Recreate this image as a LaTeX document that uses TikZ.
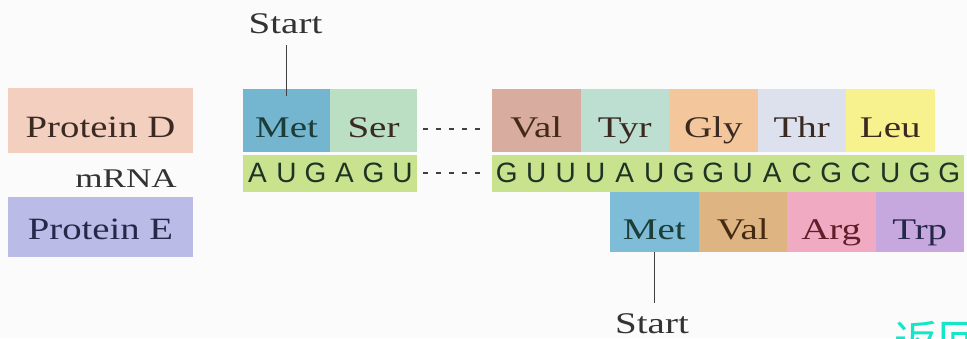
\documentclass[tikz,border=0pt]{standalone}
\usepackage{fontspec}
\usepackage{graphicx}
\setmainfont{Liberation Serif}
\newfontfamily\seqfont{Liberation Sans}
\newfontfamily\cjkfont{Noto Sans CJK SC}
\newcommand\widen[1]{\scalebox{1.3}[1]{#1}}

% box colours
\definecolor{bgc}{HTML}{FAFBFA}
\definecolor{cProtD}{HTML}{F3CFC0}
\definecolor{cProtE}{HTML}{BBBBE8}
\definecolor{cMet}{HTML}{74B6CF}
\definecolor{cSer}{HTML}{BADFC2}
\definecolor{cVal}{HTML}{D8AC9F}
\definecolor{cTyr}{HTML}{BCDFD2}
\definecolor{cGly}{HTML}{F4C69C}
\definecolor{cThr}{HTML}{DDE1EE}
\definecolor{cLeu}{HTML}{F8F28E}
\definecolor{cRNA}{HTML}{C8E28E}
\definecolor{cMetE}{HTML}{7EBCD8}
\definecolor{cValE}{HTML}{DEB482}
\definecolor{cArg}{HTML}{F0ABC2}
\definecolor{cTrp}{HTML}{C6A7DE}
\definecolor{cNav}{RGB}{20,230,200}
\definecolor{inkD}{HTML}{3A2A22}
\definecolor{inkE}{HTML}{26284A}
\definecolor{inkG}{HTML}{1F3325}

\begin{document}
\begin{tikzpicture}[x=1pt,y=-1pt,
  every node/.style={inner sep=0pt,outer sep=0pt},
  toprow/.style={anchor=north west,minimum width=#1,text height=48pt,text depth=15pt,
    font=\fontsize{30}{30}\selectfont,text=inkD},
  lowrow/.style={anchor=north west,minimum width=#1,text height=47pt,text depth=13pt,
    font=\fontsize{30}{30}\selectfont,text=inkD},
  rnabox/.style={anchor=north west,minimum width=#1,minimum height=37pt},
  base/.style={font=\fontsize{28}{28}\selectfont\seqfont,text=inkG,anchor=base},
  protein/.style={anchor=north west,minimum width=185pt,font=\fontsize{31}{31}\selectfont},
  label/.style={font=\fontsize{30}{30}\selectfont,text=black!80,anchor=base},
  gap/.style={draw=black!75,line width=2pt,dash pattern=on 5pt off 8pt},
  tick/.style={draw=black!75,line width=1.2pt}
]
\useasboundingbox (0,0) rectangle (967,338);
\clip (0,0) rectangle (967,338);
\fill[bgc] (0,0) rectangle (967,338);

% key on the left
\node[protein,fill=cProtD,text=inkD,text height=49pt,text depth=16pt] (protD) at (8,88) {\scalebox{1.25}[1]{Protein D}};
\node[label,font=\fontsize{27}{27}\selectfont] (mrna) at (126,187) {\scalebox{1.3}[1]{mRNA}};
\node[protein,fill=cProtE,text=inkE,text height=42pt,text depth=18pt] (protE) at (8,197) {\scalebox{1.25}[1]{Protein E}};

% protein D reading frame
\node[toprow=87pt,fill=cMet,text=inkD!60!teal!80!black] (metD) at (243,89) {\widen{Met}};
\node[toprow=87pt,fill=cSer] (ser) at (metD.north east) {\widen{Ser}};
\node[toprow=88.5pt,fill=cVal,text=inkD!80!orange!70!black] (valD) at (492,89) {\widen{Val}};
\node[toprow=88.5pt,fill=cTyr] (tyr) at (valD.north east) {\widen{Tyr}};
\node[toprow=88.5pt,fill=cGly] (gly) at (tyr.north east) {\widen{Gly}};
\node[toprow=88.5pt,fill=cThr] (thr) at (gly.north east) {\widen{Thr}};
\node[toprow=88.5pt,fill=cLeu] (leu) at (thr.north east) {\widen{Leu}};

% mRNA strands
\node[rnabox=174pt,fill=cRNA] (rnaA) at (243,155) {};
\node[rnabox=472pt,fill=cRNA] (rnaB) at (492,155) {};
\foreach \b [count=\i from 0] in {A,U,G,A,G,U}
  \node[base] (sa\i) at (257.5+29*\i,182) {\b};
\foreach \b [count=\i from 0] in {G,U,U,U,A,U,G,G,U,A,C,G,C,U,G,G}
  \node[base] (sb\i) at (506.75+29.5*\i,182) {\b};

% omitted stretch
\draw[gap] ([xshift=6pt,yshift=-8pt]ser.east) -- ([xshift=-8pt,yshift=-8pt]valD.west);
\draw[gap] ([xshift=6pt,yshift=1pt]rnaA.east) -- ([xshift=-8pt,yshift=1pt]rnaB.west);

% protein E reading frame
\node[lowrow=88.5pt,fill=cMetE,text=inkD!60!teal!80!black] (metE) at (610,192) {\widen{Met}};
\node[lowrow=88.5pt,fill=cValE,text=inkD!80!orange!70!black] (valE) at (metE.north east) {\widen{Val}};
\node[lowrow=88.5pt,fill=cArg,text=inkD!70!purple] (arg) at (valE.north east) {\widen{Arg}};
\node[lowrow=88.5pt,fill=cTrp,text=inkE] (trp) at (arg.north east) {\widen{Trp}};

% start markers
\node[label] (startD) at (285.5,33) {\widen{Start}};
\draw[tick] ([yshift=-7pt]metD.north) -- ++(0,-51);
\node[label] (startE) at (652,333) {\widen{Start}};
\draw[tick] (metE.south) -- ++(0,51);

% navigation link
\node[anchor=base west,font=\fontsize{44}{44}\selectfont\cjkfont,text=cNav] (nav) at (894,357) {返回};
\end{tikzpicture}
\end{document}
